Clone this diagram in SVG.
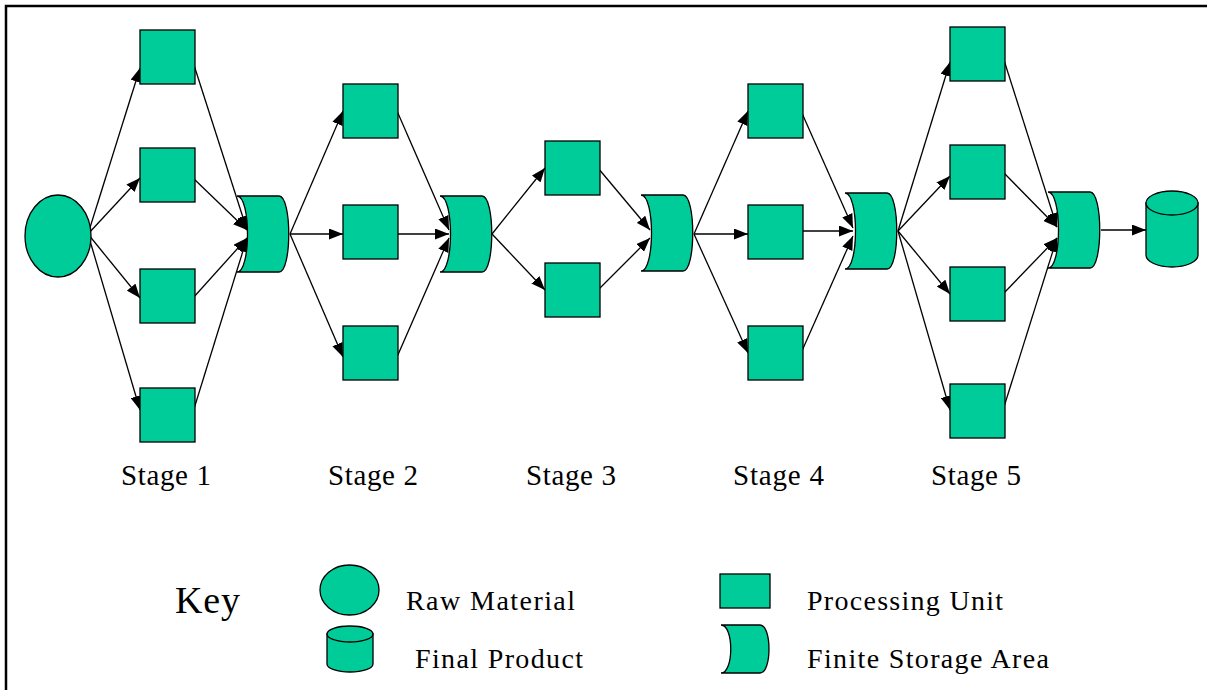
<svg xmlns="http://www.w3.org/2000/svg" width="1207" height="690" viewBox="0 0 1207 690">
<defs>
<style>
.n{fill:#00CC99;stroke:#000;stroke-width:1.3}
.c line{stroke:#000;stroke-width:1.3;marker-end:url(#ah)}
text{font-family:"Liberation Serif","Times New Roman",serif;fill:#000}
.st{font-size:29px}
.k{font-size:28px}
</style>
<marker id="ah" viewBox="0 0 14 11" refX="14" refY="5.5" markerWidth="14" markerHeight="11" markerUnits="userSpaceOnUse" orient="auto">
<path d="M0,0 L14,5.5 L0,11 Z" fill="#000"/>
</marker>
<path id="stor" d="M0,0 L42,0 C55,0 55,76 42,76 L0,76 C14,76 14,0 0,0 Z"/>
</defs>
<rect x="6" y="6" width="1220" height="700" fill="#fff" stroke="#000" stroke-width="2.5"/>

<g id="connectors" class="c">
<line x1="88" y1="234" x2="140" y2="68"/>
<line x1="88" y1="234" x2="140" y2="178"/>
<line x1="88" y1="234" x2="140" y2="298"/>
<line x1="88" y1="234" x2="140" y2="410"/>
<line x1="193" y1="62" x2="247" y2="230"/>
<line x1="193" y1="178" x2="247" y2="230"/>
<line x1="193" y1="298" x2="247" y2="238"/>
<line x1="193" y1="412" x2="247" y2="238"/>
<line x1="290" y1="234" x2="343" y2="111"/>
<line x1="290" y1="234" x2="343" y2="234"/>
<line x1="290" y1="234" x2="343" y2="357"/>
<line x1="397" y1="111" x2="449" y2="230"/>
<line x1="397" y1="234" x2="449" y2="234"/>
<line x1="397" y1="357" x2="449" y2="238"/>
<line x1="492" y1="234" x2="545" y2="168"/>
<line x1="492" y1="234" x2="545" y2="290"/>
<line x1="598" y1="168" x2="650" y2="230"/>
<line x1="598" y1="290" x2="650" y2="238"/>
<line x1="694" y1="234" x2="748" y2="111"/>
<line x1="694" y1="234" x2="748" y2="234"/>
<line x1="694" y1="234" x2="748" y2="353"/>
<line x1="801" y1="111" x2="853" y2="228"/>
<line x1="801" y1="231" x2="853" y2="231"/>
<line x1="801" y1="353" x2="853" y2="236"/>
<line x1="898" y1="231" x2="950" y2="62"/>
<line x1="898" y1="231" x2="950" y2="176"/>
<line x1="898" y1="231" x2="950" y2="294"/>
<line x1="898" y1="231" x2="950" y2="410"/>
<line x1="1003" y1="57" x2="1057" y2="227"/>
<line x1="1003" y1="172" x2="1057" y2="227"/>
<line x1="1003" y1="294" x2="1057" y2="238"/>
<line x1="1003" y1="410" x2="1057" y2="238"/>
<line x1="1101" y1="230" x2="1146" y2="230"/>
</g>

<g id="raw"><ellipse class="n" cx="58" cy="236" rx="33" ry="41"/></g>

<g id="b1a"><rect class="n" x="140" y="30" width="55" height="54"/></g>
<g id="b1b"><rect class="n" x="140" y="148" width="55" height="54"/></g>
<g id="b1c"><rect class="n" x="140" y="269" width="55" height="54"/></g>
<g id="b1d"><rect class="n" x="140" y="388" width="55" height="54"/></g>
<g id="s1"><use href="#stor" class="n" x="237" y="196"/></g>

<g id="b2a"><rect class="n" x="343" y="84" width="55" height="54"/></g>
<g id="b2b"><rect class="n" x="343" y="205" width="55" height="54"/></g>
<g id="b2c"><rect class="n" x="343" y="326" width="55" height="54"/></g>
<g id="s2"><use href="#stor" class="n" x="440" y="196"/></g>

<g id="b3a"><rect class="n" x="545" y="141" width="55" height="54"/></g>
<g id="b3b"><rect class="n" x="545" y="263" width="55" height="54"/></g>
<g id="s3"><use href="#stor" class="n" x="641" y="195"/></g>

<g id="b4a"><rect class="n" x="748" y="84" width="55" height="54"/></g>
<g id="b4b"><rect class="n" x="748" y="205" width="55" height="54"/></g>
<g id="b4c"><rect class="n" x="748" y="326" width="55" height="54"/></g>
<g id="s4"><use href="#stor" class="n" x="845" y="193"/></g>

<g id="b5a"><rect class="n" x="950" y="27" width="55" height="54"/></g>
<g id="b5b"><rect class="n" x="950" y="145" width="55" height="54"/></g>
<g id="b5c"><rect class="n" x="950" y="267" width="55" height="54"/></g>
<g id="b5d"><rect class="n" x="950" y="384" width="55" height="54"/></g>
<g id="s5"><use href="#stor" class="n" x="1048" y="192"/></g>

<g id="final">
<path class="n" d="M1146,203 L1146,255 A26,12 0 0 0 1198,255 L1198,203 Z"/>
<ellipse class="n" cx="1172" cy="203" rx="26" ry="12"/>
</g>

<g id="labels" class="st">
<text x="121" y="485" textLength="90" lengthAdjust="spacing">Stage 1</text>
<text x="328" y="485" textLength="90" lengthAdjust="spacing">Stage 2</text>
<text x="526" y="485" textLength="90" lengthAdjust="spacing">Stage 3</text>
<text x="733" y="485" textLength="91" lengthAdjust="spacing">Stage 4</text>
<text x="931" y="485" textLength="90" lengthAdjust="spacing">Stage 5</text>
</g>

<g id="key">
<text x="175" y="613" font-size="38" textLength="65" lengthAdjust="spacing">Key</text>
<ellipse class="n" cx="349.5" cy="590" rx="29.5" ry="25"/>
<text class="k" x="406" y="610" textLength="169" lengthAdjust="spacing">Raw Material</text>
<path class="n" d="M327,634 L327,664 A23,8 0 0 0 373,664 L373,634 Z"/>
<ellipse class="n" cx="350" cy="634" rx="23" ry="8"/>
<text class="k" x="415" y="668" textLength="168" lengthAdjust="spacing">Final Product</text>
<rect class="n" x="720" y="574" width="50" height="34"/>
<text class="k" x="807" y="610" textLength="196" lengthAdjust="spacing">Processing Unit</text>
<path class="n" d="M721,625 L760,625 C772,625 772,673 760,673 L721,673 C734,673 734,625 721,625 Z"/>
<text class="k" x="807" y="668" textLength="242" lengthAdjust="spacing">Finite Storage Area</text>
</g>
</svg>
